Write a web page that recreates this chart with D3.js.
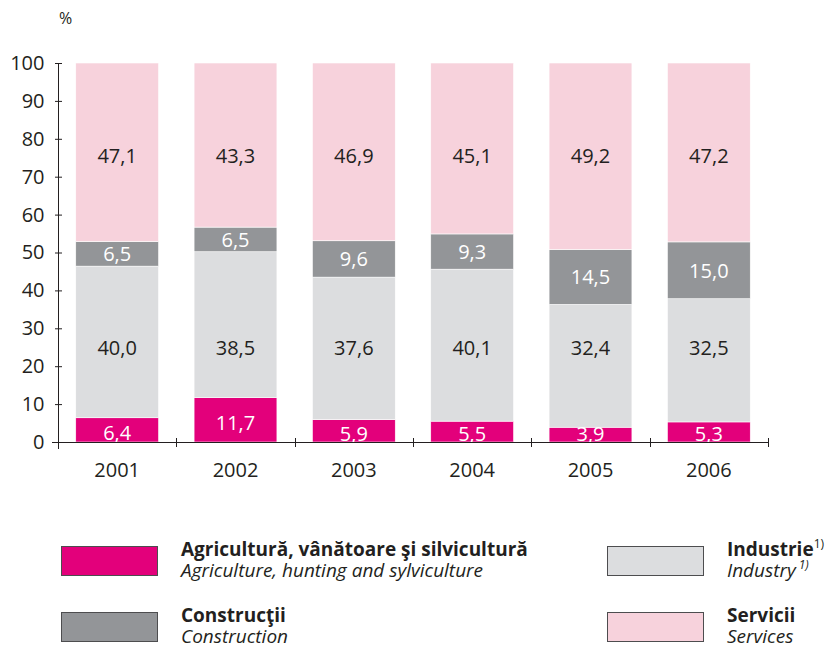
<!DOCTYPE html>
<html>
<head>
<meta charset="utf-8">
<script src="https://cdn.jsdelivr.net/npm/d3@7"></script>
<style>
  body { margin: 0; background: #fff; }
  text { font-family: "Open Sans", "Noto Sans", sans-serif; fill: #231f20; }
</style>
</head>
<body>
<div id="chart"></div>
<script>
// data
var years = ["2001", "2002", "2003", "2004", "2005", "2006"];
var agriculture = [6.4, 11.7, 5.9, 5.5, 3.9, 5.3];
var industry = [40.0, 38.5, 37.6, 40.1, 32.4, 32.5];
var construction = [6.5, 6.5, 9.6, 9.3, 14.5, 15.0];
var services = [47.1, 43.3, 46.9, 45.1, 49.2, 47.2];
var yTicks = [0, 10, 20, 30, 40, 50, 60, 70, 80, 90, 100];

var seriesKeys = ["agri", "ind", "cons", "serv"];
var colors = { agri: "#e3007b", ind: "#dcdddf", cons: "#939598", serv: "#f7d2dc" };
var labelColors = { agri: "#fff", ind: "#231f20", cons: "#fff", serv: "#231f20" };

var svgWidth = 828;
var svgHeight = 648;

var svg = d3.select("#chart")
    .append("svg")
    .attr("width", svgWidth)
    .attr("height", svgHeight);

// build table for the stack
var table = years.map((y, i) => ({
    year: y,
    agri: agriculture[i],
    ind: industry[i],
    cons: construction[i],
    serv: services[i]
}));

var xScale = d3.scaleBand()
    .domain(years)
    .range([58, 768])
    .paddingInner(0.3)
    .paddingOuter(0.15);

var yScale = d3.scaleLinear()
    .domain([0, 100])
    .range([442, 63]);

var stacked = d3.stack().keys(seriesKeys)(table);

// bars
var layers = svg.append("g")
    .selectAll("g")
    .data(stacked)
    .enter()
    .append("g")
    .attr("fill", d => colors[d.key]);

layers.selectAll("rect")
    .data(d => d)
    .enter()
    .append("rect")
    .attr("x", d => xScale(d.data.year))
    .attr("width", xScale.bandwidth())
    .attr("y", d => yScale(d[1]))
    .attr("height", d => yScale(d[0]) - yScale(d[1]))
    .attr("stroke", "#fff")
    .attr("stroke-width", 0.6);

// value labels
function labelValue(key, d) {
    var v = d[1] - d[0];
    if (key == "serv") return 75.6;
    if (key == "ind") return 24.8;
    if (key == "agri") return Math.max(v / 2 - 0.9, 2.2);
    return (d[0] + d[1]) / 2;
}

stacked.forEach(function(layer) {
    svg.append("g")
        .selectAll("text")
        .data(layer)
        .enter()
        .append("text")
        .attr("x", d => xScale(d.data.year) + xScale.bandwidth() / 2)
        .attr("y", d => yScale(labelValue(layer.key, d)))
        .attr("dy", "0.36em")
        .style("text-anchor", "middle")
        .style("font-size", "20px")
        .style("fill", labelColors[layer.key])
        .text(d => d3.format(".1f")(d[1] - d[0]).replace(".", ","));
});

// y axis
var leftAxis = d3.axisLeft(yScale).tickValues(yTicks).tickSize(7).tickSizeOuter(0).tickPadding(10);
var yAxisG = svg.append("g")
    .attr("transform", "translate(58.5,0)")
    .call(leftAxis);
yAxisG.select(".domain").remove();
yAxisG.selectAll(".tick line").attr("x1", -3.5).attr("x2", 3.5).attr("stroke", "#231f20");
yAxisG.selectAll(".tick text")
    .attr("x", -14)
    .style("font-size", "20px")
    .style("font-family", "'Open Sans', sans-serif")
    .style("fill", "#231f20");
yAxisG.append("line")
    .attr("x1", 0).attr("x2", 0)
    .attr("y1", yScale(100)).attr("y2", yScale(0) + 7)
    .attr("stroke", "#231f20");

// x axis
svg.append("line")
    .attr("x1", 52).attr("x2", 768)
    .attr("y1", yScale(0) + 0.5).attr("y2", yScale(0) + 0.5)
    .attr("stroke", "#231f20");

var edges = years.map(y => xScale(y) + xScale.bandwidth() + xScale.step() * 0.15);
svg.append("g")
    .selectAll("line")
    .data(edges)
    .enter()
    .append("line")
    .attr("x1", d => Math.round(d) + 0.5)
    .attr("x2", d => Math.round(d) + 0.5)
    .attr("y1", yScale(0) - 4)
    .attr("y2", yScale(0) + 5)
    .attr("stroke", "#231f20");

svg.append("g")
    .selectAll("text")
    .data(years)
    .enter()
    .append("text")
    .attr("x", d => xScale(d) + xScale.bandwidth() / 2)
    .attr("y", 477)
    .style("text-anchor", "middle")
    .style("font-size", "20px")
    .text(d => d);

// unit
svg.append("text")
    .attr("x", 59)
    .attr("y", 24)
    .style("font-size", "16px")
    .text("%");

// legend
var legendItems = [
    { key: "agri", x: 61, y: 546, ro: "Agricultură, vânătoare şi silvicultură", en: "Agriculture, hunting and sylviculture", sup: false },
    { key: "cons", x: 61, y: 612, ro: "Construcţii", en: "Construction", sup: false },
    { key: "ind", x: 607, y: 546, ro: "Industrie", en: "Industry", sup: true },
    { key: "serv", x: 607, y: 612, ro: "Servicii", en: "Services", sup: false }
];

var legend = svg.append("g")
    .selectAll("g")
    .data(legendItems)
    .enter()
    .append("g")
    .attr("transform", d => `translate(${d.x},${d.y})`);

legend.append("rect")
    .attr("x", 0.5).attr("y", 0.5)
    .attr("width", 96).attr("height", 29)
    .attr("fill", d => colors[d.key])
    .attr("stroke", "#4d4d4f")
    .attr("stroke-width", 1);

var roText = legend.append("text")
    .attr("x", 120)
    .attr("y", 10)
    .style("font-size", "19px")
    .style("font-weight", "bold");
roText.append("tspan").text(d => d.ro);
roText.filter(d => d.sup).append("tspan")
    .attr("dy", -8)
    .style("font-size", "12px")
    .style("font-weight", "normal")
    .text("1)");

var enText = legend.append("text")
    .attr("x", 120)
    .attr("y", 31)
    .style("font-size", "19px")
    .style("font-style", "italic");
enText.append("tspan").text(d => d.en);
enText.filter(d => d.sup).append("tspan")
    .attr("dx", 3)
    .attr("dy", -8)
    .style("font-size", "12px")
    .text("1)");
</script>
</body>
</html>
